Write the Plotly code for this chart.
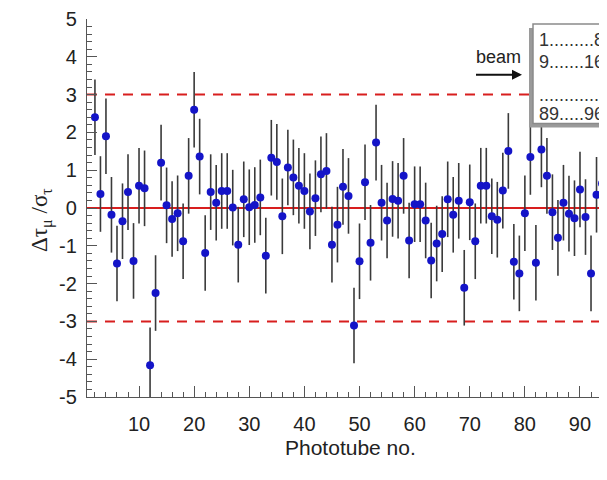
import plotly.graph_objects as go

# ---- data ----
tube = list(range(1, 94))
dev = [2.40, 0.37, 1.90, -0.18, -1.47, -0.35, 0.42, -1.40, 0.59, 0.52,
       -4.16, -2.25, 1.20, 0.07, -0.29, -0.14, -0.88, 0.85, 2.60, 1.36,
       -1.19, 0.42, 0.14, 0.45, 0.45, 0.01, -0.97, 0.23, 0.02, 0.08,
       0.28, -1.26, 1.33, 1.22, -0.22, 1.07, 0.81, 0.59, 0.45, -0.09,
       0.26, 0.89, 0.98, -0.97, -0.44, 0.56, 0.32, -3.11, -1.41, 0.68,
       -0.92, 1.73, 0.14, -0.33, 0.24, 0.19, 0.85, -0.86, 0.10, 0.10,
       -0.33, -1.39, -0.94, -0.69, 0.23, -0.18, 0.19, -2.11, 0.15, -0.88,
       0.59, 0.59, -0.22, -0.31, 0.46, 1.51, -1.42, -1.73, -0.14, 1.35,
       -1.45, 1.55, 0.85, -0.11, -0.79, 0.14, -0.15, -0.27, 0.49, -0.24,
       -1.73, 0.35, 0.65]
err = [1.0, 1.0, 1.0, 1.0, 1.0, 1.0, 1.0, 1.0, 1.0, 1.0,
       1.0, 1.0, 1.0, 1.0, 1.0, 1.0, 1.0, 1.0, 1.0, 1.0,
       1.0, 1.0, 1.0, 1.0, 1.0, 1.0, 1.0, 1.0, 1.0, 1.0,
       1.0, 1.0, 1.0, 1.0, 1.0, 1.0, 1.0, 1.0, 1.0, 1.0,
       1.0, 1.0, 1.0, 1.0, 1.0, 1.0, 1.0, 1.0, 1.0, 1.0,
       1.0, 1.0, 1.0, 1.0, 1.0, 1.0, 1.0, 1.0, 1.0, 1.0,
       1.0, 1.0, 1.0, 1.0, 1.0, 1.0, 1.0, 1.0, 1.0, 1.0,
       1.0, 1.0, 1.0, 1.0, 1.0, 1.0, 1.0, 1.0, 1.0, 1.0,
       1.0, 1.0, 1.0, 1.0, 1.0, 1.0, 1.0, 1.0, 1.0, 1.0,
       1.0, 1.0, 1.0]
x_ticks = [10, 20, 30, 40, 50, 60, 70, 80, 90]
y_ticks = [-5, -4, -3, -2, -1, 0, 1, 2, 3, 4, 5]
y_tick_text = ["-5", "-4", "-3", "-2", "-1", "0", "1", "2", "3", "4", "5"]
limit = 3
layout_rows = ["1.........8", "9.......16", "............", "89.....96"]

# markers sit one channel to the right of the tube index, as in the reference
x_pos = [t + 1 for t in tube]

# the page adds an 8px body margin, so the figure is 8px smaller
W, H = 599, 472
L, R, T, B = 79, 0, 9, 83
pw, ph = W - L - R, H - T - B
PL, PB = 87, 397  # plot-area left / bottom in window pixels


def px(x):
    return (x - PL) / pw


def py(y):
    return (PB - y) / ph


fig = go.Figure()
fig.add_trace(go.Scatter(
    x=x_pos, y=dev, mode="markers",
    marker=dict(color="#1414c8", size=8),
    error_y=dict(type="data", array=err, color="#3a3a3a", thickness=1.6, width=0),
    showlegend=False, cliponaxis=False,
))

red = "#d81e1e"
shapes = [
    dict(type="line", xref="paper", yref="y", x0=0, x1=1.2, y0=0, y1=0,
         line=dict(color=red, width=2), layer="below"),
    dict(type="line", xref="paper", yref="y", x0=0, x1=1.2, y0=limit, y1=limit,
         line=dict(color=red, width=2, dash="10px,8px"), layer="below"),
    dict(type="line", xref="paper", yref="y", x0=0, x1=1.2, y0=-limit, y1=-limit,
         line=dict(color=red, width=2, dash="10px,8px"), layer="below"),
    # legend box shadow + box
    dict(type="rect", xref="paper", yref="paper", x0=px(529), x1=px(640),
         y0=py(126), y1=py(26), fillcolor="#9a9a9a", line=dict(width=0)),
    dict(type="rect", xref="paper", yref="paper", x0=px(533), x1=px(640),
         y0=py(122), y1=py(22), fillcolor="white", line=dict(color="#8a8a8a", width=1.5)),
]

font_main = "Liberation Sans, Arial, sans-serif"
ann = []
row_y = [38, 60, 93, 112]
for txt, yy in zip(layout_rows, row_y):
    ann.append(dict(x=px(537), y=py(yy), xref="paper", yref="paper", text=txt,
                    showarrow=False, xanchor="left", yanchor="middle",
                    font=dict(family=font_main, size=18, color="#333")))
ann.append(dict(x=px(498), y=py(55), xref="paper", yref="paper", text="beam",
                showarrow=False, xanchor="center", yanchor="middle",
                font=dict(family=font_main, size=18, color="#222")))
ann.append(dict(x=px(522), y=py(73), xref="paper", yref="paper", text=" ",
                showarrow=True, ax=-49, ay=0, arrowhead=2, arrowsize=1,
                arrowwidth=2, arrowcolor="#111"))
ann.append(dict(x=px(42), y=py(219), xref="paper", yref="paper",
                text="Δτ<sub>μ</sub> /σ<sub>τ</sub>", textangle=-90,
                showarrow=False, xanchor="center", yanchor="middle",
                font=dict(family="Liberation Serif, serif", size=23, color="#222")))
ann.append(dict(x=px(350), y=py(448), xref="paper", yref="paper",
                text="Phototube no.", showarrow=False, xanchor="center", yanchor="middle",
                font=dict(family=font_main, size=21, color="#222")))

axis_col = "#555"
fig.update_layout(
    width=W, height=H,
    margin=dict(l=L, r=R, t=T, b=B, pad=0),
    paper_bgcolor="white", plot_bgcolor="white",
    shapes=shapes, annotations=ann,
    xaxis=dict(range=[0.56, 94.9], tickvals=x_ticks, ticks="inside", ticklen=11,
               tickwidth=1, tickcolor=axis_col, showline=True, linecolor=axis_col,
               linewidth=1.2, showgrid=False, zeroline=False,
               minor=dict(tick0=0, dtick=2, ticks="inside", ticklen=5,
                          tickcolor=axis_col, tickwidth=1),
               ticklabelstandoff=9,
               tickfont=dict(family=font_main, size=20, color="#222")),
    yaxis=dict(range=[-5, 5], tickvals=y_ticks, ticktext=y_tick_text,
               ticks="inside", ticklen=10, tickwidth=1, tickcolor=axis_col,
               showline=True, linecolor=axis_col, linewidth=1.2,
               showgrid=False, zeroline=False,
               minor=dict(tick0=0, dtick=0.2, ticks="inside", ticklen=5,
                          tickcolor=axis_col, tickwidth=1),
               ticklabelstandoff=5, ticklabeloverflow="allow",
               tickfont=dict(family=font_main, size=20, color="#222")),
)

fig.write_html("out.html")
